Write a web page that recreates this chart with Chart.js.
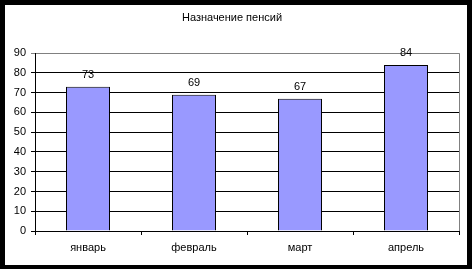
<!DOCTYPE html>
<html>
<head>
<meta charset="utf-8">
<script src="https://cdn.jsdelivr.net/npm/chart.js@4"></script>
<style>
  html, body { margin: 0; padding: 0; background: #000; }
  #box { position: absolute; left: 5px; top: 5px; width: 462px; height: 260px; background: #fff; }
</style>
</head>
<body>
<div id="box"><canvas id="chart" width="462" height="260"></canvas></div>
<script>
// ─── DATA ────────────────────────────────────────────────
const months = ['январь', 'февраль', 'март', 'апрель'];
const pensions = [73, 69, 67, 84];
const title = 'Назначение пенсий';

Chart.defaults.font.family = "'Liberation Sans', Arial, sans-serif";
Chart.defaults.font.size = 11;
Chart.defaults.color = '#000';

// value labels above the bars + grey right border of the plot
const extras = {
  id: 'extras',
  afterDatasetsDraw(chart) {
    const ctx = chart.ctx;
    const area = chart.chartArea;
    ctx.save();
    ctx.strokeStyle = '#808080';
    ctx.lineWidth = 1;
    ctx.beginPath();
    ctx.moveTo(Math.round(area.right) + 0.5, area.top);
    ctx.lineTo(Math.round(area.right) + 0.5, area.bottom);
    ctx.stroke();

    ctx.fillStyle = '#000';
    ctx.font = "11px 'Liberation Sans', Arial, sans-serif";
    ctx.textAlign = 'center';
    ctx.textBaseline = 'middle';
    chart.getDatasetMeta(0).data.forEach((bar, i) => {
      ctx.fillText(String(pensions[i]), bar.x, bar.y - 12);
    });
    ctx.restore();
  }
};

new Chart(document.getElementById('chart'), {
  type: 'bar',
  data: {
    labels: months,
    datasets: [{
      data: pensions,
      backgroundColor: '#9999FF',
      borderColor: '#000',
      borderWidth: 1,
      categoryPercentage: 1,
      barPercentage: 0.415
    }]
  },
  options: {
    responsive: false,
    animation: false,
    layout: { padding: { left: 0, right: 8, top: 0, bottom: 0 } },
    plugins: {
      legend: { display: false },
      tooltip: { enabled: false },
      title: {
        display: true,
        text: title,
        color: '#000',
        font: { size: 11, weight: 'normal' },
        padding: { top: 6, bottom: 29 }
      }
    },
    scales: {
      x: {
        grid: { display: true, drawOnChartArea: false, drawTicks: true, tickLength: 4, color: '#000', offset: true },
        border: { color: '#000' },
        ticks: { padding: 6, color: '#000' },
        afterFit: s => { s.height = 34; }
      },
      y: {
        min: 0,
        max: 90,
        ticks: { stepSize: 10, padding: 5, color: '#000' },
        grid: {
          color: c => (c.tick && c.tick.value === 90 ? '#808080' : '#000'),
          tickLength: 4
        },
        border: { color: '#000' },
        afterFit: s => { s.width = 30; }
      }
    }
  },
  plugins: [extras]
});
</script>
</body>
</html>
